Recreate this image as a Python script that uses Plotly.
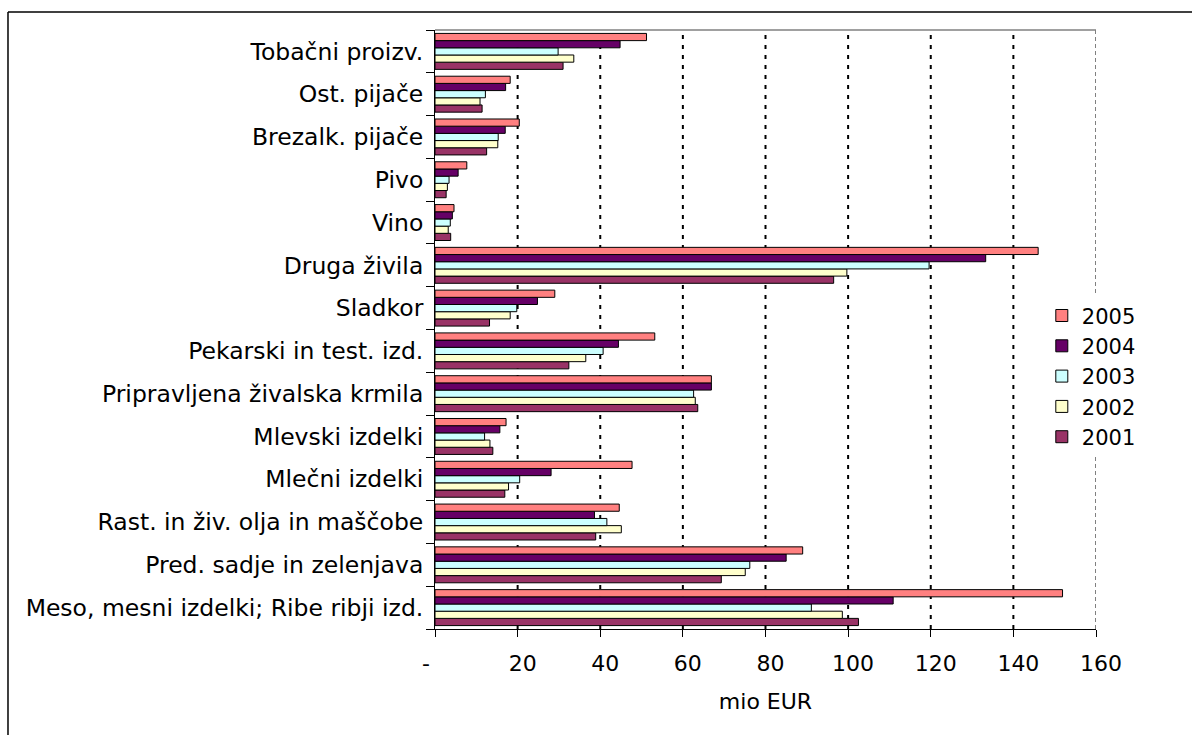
import plotly.graph_objects as go

# Categories listed bottom to top (Plotly draws the first category at the bottom)
categories = [
    "Meso, mesni izdelki; Ribe ribji izd.",
    "Pred. sadje in zelenjava",
    "Rast. in živ. olja in maščobe",
    "Mlečni izdelki",
    "Mlevski izdelki",
    "Pripravljena živalska krmila",
    "Pekarski in test. izd.",
    "Sladkor",
    "Druga živila",
    "Vino",
    "Pivo",
    "Brezalk. pijače",
    "Ost. pijače",
    "Tobačni proizv.",
]

years = ["2001", "2002", "2003", "2004", "2005"]

# mio EUR, same order as categories
v2001 = [102.5, 69.3, 38.9, 16.9, 14.0, 63.6, 32.4, 13.2, 96.5, 3.8, 2.7, 12.5, 11.4, 31.0]
v2002 = [98.6, 75.1, 45.1, 17.8, 13.3, 63.0, 36.5, 18.2, 99.7, 3.2, 3.0, 15.2, 10.9, 33.6]
v2003 = [91.1, 76.2, 41.6, 20.5, 12.0, 62.6, 40.7, 19.8, 119.6, 3.7, 3.4, 15.3, 12.2, 29.8]
v2004 = [110.9, 85.0, 38.6, 28.1, 15.7, 66.9, 44.4, 24.8, 133.3, 4.2, 5.6, 17.0, 17.1, 44.8]
v2005 = [151.9, 89.0, 44.6, 47.7, 17.2, 66.9, 53.2, 29.0, 146.0, 4.6, 7.7, 20.4, 18.2, 51.2]

series = [v2001, v2002, v2003, v2004, v2005]
colors = ["#993366", "#FFFFCC", "#CCFFFF", "#660066", "#FF8080"]

x_ticks = [0, 20, 40, 60, 80, 100, 120, 140, 160]
x_ticktext = ["-\u00a0\u00a0\u00a0\u00a0", "20", "40", "60", "80", "100", "120", "140", "160"]
grid_vals = [20, 40, 60, 80, 100, 120, 140]

FONT = "DejaVu Sans, Verdana, sans-serif"

fig = go.Figure()
for yr, vals, col in zip(years, series, colors):
    fig.add_trace(go.Bar(
        y=categories, x=vals, name=yr, orientation="h",
        marker=dict(color=col, line=dict(color="#000000", width=1)),
    ))

shapes = []
# dotted vertical grid lines
for v in grid_vals:
    shapes.append(dict(type="line", xref="x", yref="paper", x0=v, x1=v, y0=0, y1=1,
                       line=dict(color="#000000", width=2, dash="4px,6px"), layer="below"))
# plot-area border: grey dashed right edge, grey solid top edge
shapes.append(dict(type="line", xref="x", yref="paper", x0=160, x1=160, y0=0, y1=1,
                   line=dict(color="#808080", width=2, dash="4px,3px"), layer="below"))
shapes.append(dict(type="line", xref="x", yref="paper", x0=0, x1=160, y0=1, y1=1,
                   line=dict(color="#808080", width=1.5), layer="below"))
# outer chart frame (top and left edges)
shapes.append(dict(type="line", xref="paper", yref="paper", x0=-0.646, x1=1.2, y0=1.030, y1=1.030,
                   line=dict(color="#000000", width=1.5)))
shapes.append(dict(type="line", xref="paper", yref="paper", x0=-0.646, x1=-0.646, y0=1.030, y1=-0.2,
                   line=dict(color="#000000", width=1.5)))

fig.update_layout(
    width=1192, height=735,
    margin=dict(l=435, r=96, t=30, b=106),
    paper_bgcolor="white", plot_bgcolor="white",
    barmode="group", bargap=0.16, bargroupgap=0,
    font=dict(family=FONT, size=21, color="#000000"),
    showlegend=True,
    legend=dict(
        x=0.918, y=0.557, xanchor="left", yanchor="top",
        traceorder="reversed", bgcolor="white", borderwidth=0,
        font=dict(family=FONT, size=21, color="#000000"),
        itemwidth=30,
    ),
    xaxis=dict(
        range=[0, 160], tickvals=x_ticks, ticktext=x_ticktext,
        showgrid=False, zeroline=False,
        showline=True, linecolor="#000000", linewidth=1,
        ticks="outside", ticklen=7, tickcolor="#000000", tickwidth=1,
        tickfont=dict(family=FONT, size=22, color="#000000"),
        ticklabelshift=5, ticklabelstandoff=8,
        title=dict(text="mio EUR", font=dict(family=FONT, size=22, color="#000000"), standoff=18),
    ),
    yaxis=dict(
        type="category", categoryorder="array", categoryarray=categories,
        showgrid=False, zeroline=False,
        showline=True, linecolor="#000000", linewidth=1,
        ticks="outside", ticklen=8, tickcolor="#000000", tickwidth=1,
        tickson="boundaries", ticklabelstandoff=6,
        tickfont=dict(family=FONT, size=23.5, color="#000000"),
    ),
    shapes=shapes,
)

fig.write_html("out.html")
